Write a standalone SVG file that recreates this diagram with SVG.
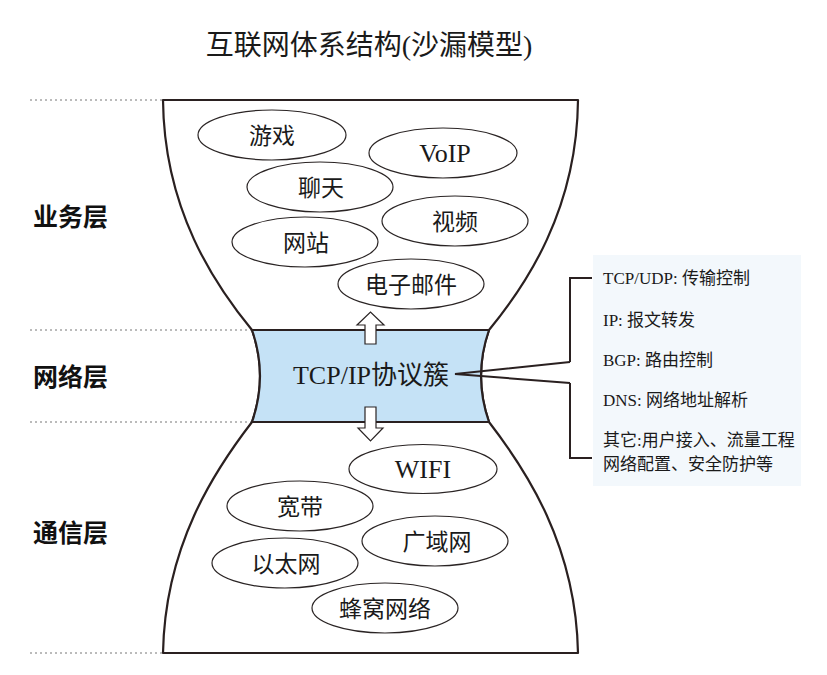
<svg xmlns="http://www.w3.org/2000/svg" width="827" height="675" viewBox="0 0 827 675">
<style>
.serif{font-family:"Liberation Serif","Noto Sans CJK SC",serif;fill:#1a1a1a}
.layer{font-family:"Noto Sans CJK SC","Noto Sans",sans-serif;font-weight:700;font-size:25px;fill:#111}
.ell{fill:#fff;stroke:#2a2424;stroke-width:1.2}
.cj{font-size:23px}
.lat{font-size:26px}
.dash{stroke:#777;stroke-width:1;stroke-dasharray:2 3;fill:none}
.info{font-size:17px}
.ln{stroke:#2a2020;stroke-width:2;fill:none}
.arr{fill:#fff;stroke:#2a2424;stroke-width:1.2}
</style>
<rect width="827" height="675" fill="#fff"/>
<text class="serif" x="369" y="55" font-size="28" text-anchor="middle">互联网体系结构(沙漏模型)</text>

<g id="guides">
<line class="dash" x1="30" y1="100" x2="163" y2="100"/>
<line class="dash" x1="30" y1="330" x2="252" y2="330"/>
<line class="dash" x1="30" y1="422" x2="252" y2="422"/>
<line class="dash" x1="30" y1="653" x2="163" y2="653"/>
</g>

<g id="layer-labels">
<text class="layer" x="33" y="226">业务层</text>
<text class="layer" x="33" y="386">网络层</text>
<text class="layer" x="33" y="542">通信层</text>
</g>

<g id="hourglass">
<path d="M163,100 L578,100 C577,210 526,285 489,330 Q473,376 489,422 C526,470 576,545 578,653 L163,653 C165,545 215,470 252,422 Q268,376 252,330 C215,285 164,210 163,100 Z" fill="#fff" stroke="#2a2020" stroke-width="2.2" stroke-linejoin="round"/>
<path id="band" d="M252,330 L489,330 Q473,376 489,422 L252,422 Q268,376 252,330 Z" fill="#c5e2f6" stroke="#2a2020" stroke-width="2.2" stroke-linejoin="round"/>
<text class="serif" x="371" y="384" font-size="26" text-anchor="middle">TCP/IP协议簇</text>
</g>

<g id="connectors">
<path class="arr" d="M365,344 L365,325 L357,325 L370.5,312 L384,325 L376,325 L376,344 Z"/>
<path class="arr" d="M365,407 L376,407 L376,428 L383,428 L370.5,441 L358,428 L365,428 Z"/>
<path class="ln" d="M570,362 L455,374 L570,383"/>
<path class="ln" d="M592,278 L570,278 L570,362"/>
<path class="ln" d="M570,383 L570,458 L592,458"/>
</g>

<g id="n-youxi"><ellipse class="ell" cx="272" cy="135" rx="74" ry="25"/><text class="serif cj" x="272" y="144" text-anchor="middle">游戏</text></g>
<g id="n-voip"><ellipse class="ell" cx="443" cy="153" rx="74" ry="25"/><text class="serif lat" x="445" y="162" text-anchor="middle">VoIP</text></g>
<g id="n-liaotian"><ellipse class="ell" cx="320" cy="187" rx="73" ry="25"/><text class="serif cj" x="321" y="196" text-anchor="middle">聊天</text></g>
<g id="n-shipin"><ellipse class="ell" cx="455" cy="221" rx="73" ry="25"/><text class="serif cj" x="455" y="230" text-anchor="middle">视频</text></g>
<g id="n-wangzhan"><ellipse class="ell" cx="305" cy="242" rx="73" ry="25"/><text class="serif cj" x="306" y="251" text-anchor="middle">网站</text></g>
<g id="n-email"><ellipse class="ell" cx="411" cy="284" rx="73" ry="25"/><text class="serif cj" x="411" y="293" text-anchor="middle">电子邮件</text></g>

<g id="n-wifi"><ellipse class="ell" cx="423" cy="469" rx="74" ry="24.5"/><text class="serif lat" x="423" y="478" text-anchor="middle">WIFI</text></g>
<g id="n-kuandai"><ellipse class="ell" cx="300" cy="506" rx="73" ry="25"/><text class="serif cj" x="300" y="515" text-anchor="middle">宽带</text></g>
<g id="n-guangyuwang"><ellipse class="ell" cx="435" cy="541" rx="73" ry="25"/><text class="serif cj" x="437" y="550" text-anchor="middle">广域网</text></g>
<g id="n-yitaiwang"><ellipse class="ell" cx="285" cy="563" rx="73" ry="25"/><text class="serif cj" x="286" y="572" text-anchor="middle">以太网</text></g>
<g id="n-fengwo"><ellipse class="ell" cx="385" cy="608" rx="73" ry="25"/><text class="serif cj" x="385" y="617" text-anchor="middle">蜂窝网络</text></g>

<g id="info-box">
<rect x="593" y="255" width="208" height="231" fill="#f3f8fc"/>
<text class="serif info" x="603" y="284">TCP/UDP: 传输控制</text>
<text class="serif info" x="603" y="326">IP: 报文转发</text>
<text class="serif info" x="603" y="366">BGP: 路由控制</text>
<text class="serif info" x="603" y="406">DNS: 网络地址解析</text>
<text class="serif info" x="603" y="446">其它:用户接入、流量工程</text>
<text class="serif info" x="603" y="470">网络配置、安全防护等</text>
</g>
</svg>
